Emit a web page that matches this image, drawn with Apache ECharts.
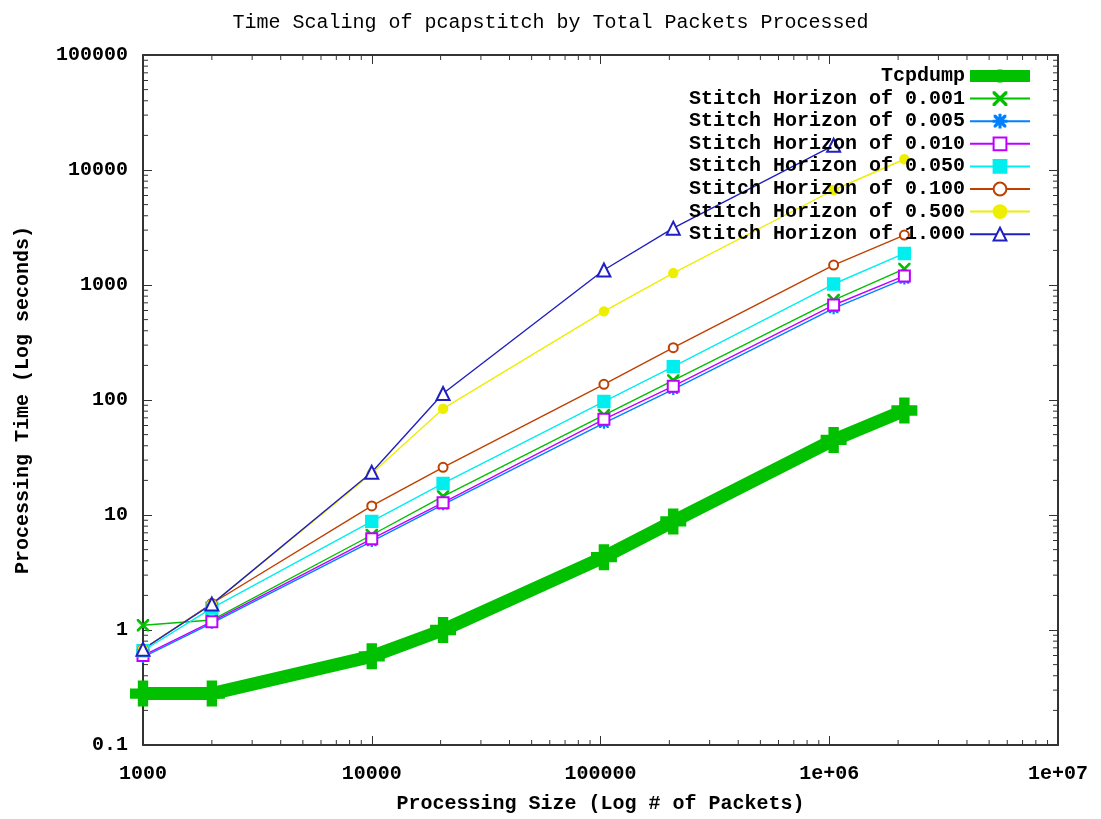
<!DOCTYPE html>
<html>
<head>
<meta charset="utf-8">
<script src="https://cdn.jsdelivr.net/npm/echarts@6/dist/echarts.min.js"></script>
<style>
  html, body { margin: 0; padding: 0; background: #fff; }
  #chart { width: 1101px; height: 819px; }
</style>
</head>
<body>
<div id="chart"></div>
<script>
// packets processed (x) for each run
const packets = [1000, 2000, 10000, 20500, 103500, 208000, 1045000, 2130000];

const tcpdump = [0.28, 0.28, 0.59, 1.0, 4.3, 8.8, 45, 81];
const h0001 = [1.1, 1.22, 6.7, 14.5, 74, 148, 740, 1380];
const h0005 = [0.58, 1.15, 5.9, 12.3, 63, 124, 625, 1130];
const h0010 = [0.6, 1.18, 6.2, 12.8, 68, 132, 670, 1200];
const h0050 = [0.66, 1.55, 8.8, 18.8, 97, 195, 1020, 1880];
const h0100 = [0.68, 1.7, 12, 26, 137, 285, 1490, 2720];
const h0500 = [0.68, 1.68, 23, 84, 590, 1270, 6700, 12400];
const h1000 = [0.68, 1.68, 23.5, 114, 1350, 3120, 16400];

const xTickLabels = ['1000', '10000', '100000', '1e+06', '1e+07'];
const yTickLabels = ['0.1', '1', '10', '100', '1000', '10000', '100000'];

const FONT = '"Liberation Mono", "DejaVu Sans Mono", monospace';

// minor tick positions for log axes (2..9 in each decade)
function minorTicks(lo, hi) {
    const out = [];
    for (let d = lo; d < hi; d *= 10) {
        for (let k = 2; k <= 9; k++) out.push(d * k);
    }
    return out;
}
const xMinor = minorTicks(1000, 1e7);
const yMinor = minorTicks(0.1, 100000);

const pair = (ys) => ys.map((v, i) => [packets[i], v]);

const crossPath = 'path://M0,0 L0.8,0 L5,4.2 L9.2,0 L10,0 L10,0.8 L5.8,5 L10,9.2 L10,10 L9.2,10 L5,5.8 L0.8,10 L0,10 L0,9.2 L4.2,5 L0,0.8 Z';
const starPath = 'path://M0,0 L0.9,0 L5,4.1 L9.1,0 L10,0 L10,0.9 L5.9,5 L10,9.1 L10,10 L9.1,10 L5,5.9 L0.9,10 L0,10 L0,9.1 L4.1,5 L0,0.9 Z M4.5,-1 H5.5 V11 H4.5 Z M-1,4.5 H11 V5.5 H-1 Z';
const plusPath = 'path://M3,0 H7 V3 H10 V7 H7 V10 H3 V7 H0 V3 H3 Z';

function thin(name, data, color, symbol, size) {
    return {
        name, type: 'line', data: pair(data), symbol, symbolSize: size,
        showSymbol: true,
        lineStyle: { color, width: 1.4 },
        itemStyle: { color, borderColor: color, borderWidth: 1.4 },
        animation: false
    };
}

const myChart = echarts.init(document.getElementById('chart'));

const axisLabelStyle = { fontFamily: FONT, fontSize: 20, fontWeight: 'bold', color: '#000' };
const axisLineStyle = { lineStyle: { color: '#333', width: 2 } };

const option = {
    backgroundColor: '#fff',
    animation: false,
    title: {
        text: 'Time Scaling of pcapstitch by Total Packets Processed',
        left: 'center', top: 8,
        textStyle: { fontFamily: FONT, fontSize: 20, fontWeight: 'normal', color: '#000' }
    },
    legend: {
        orient: 'vertical', right: 60, top: 61, align: 'right',
        itemWidth: 60, itemHeight: 16, itemGap: 2.6,
        data: [
            { name: 'Tcpdump', lineStyle: { width: 12 } },
            'Stitch Horizon of 0.001', 'Stitch Horizon of 0.005', 'Stitch Horizon of 0.010',
            'Stitch Horizon of 0.050', 'Stitch Horizon of 0.100', 'Stitch Horizon of 0.500', 'Stitch Horizon of 1.000'],
        textStyle: { fontFamily: FONT, fontSize: 20, fontWeight: 'bold', color: '#000', lineHeight: 20 }
    },
    grid: { left: 143, right: 43, top: 55, bottom: 72 },
    xAxis: [
        {
            type: 'log', logBase: 10, min: 1000, max: 1e7,
            name: 'Processing Size (Log # of Packets)', nameLocation: 'middle', nameGap: 49,
            nameTextStyle: axisLabelStyle,
            axisLine: axisLineStyle,
            axisTick: { inside: true, length: 9, lineStyle: { color: '#333' } },
            axisLabel: Object.assign({ margin: 19, formatter: (v) => xTickLabels[Math.round(Math.log10(v)) - 3] }, axisLabelStyle),
            splitLine: { show: false }
        },
        {
            type: 'log', logBase: 10, min: 1000, max: 1e7, position: 'top',
            axisLine: axisLineStyle,
            axisTick: { inside: true, length: 9, lineStyle: { color: '#333' } },
            axisLabel: { show: false }, splitLine: { show: false }
        }
    ],
    yAxis: [
        {
            type: 'log', logBase: 10, min: 0.1, max: 100000,
            name: 'Processing Time (Log seconds)', nameLocation: 'middle', nameGap: 110,
            nameTextStyle: axisLabelStyle,
            axisLine: axisLineStyle,
            axisTick: { inside: true, length: 9, lineStyle: { color: '#333' } },
            axisLabel: Object.assign({ margin: 15, formatter: (v) => yTickLabels[Math.round(Math.log10(v)) + 1] }, axisLabelStyle),
            splitLine: { show: false }
        },
        {
            type: 'log', logBase: 10, min: 0.1, max: 100000, position: 'right',
            axisLine: axisLineStyle,
            axisTick: { inside: true, length: 9, lineStyle: { color: '#333' } },
            axisLabel: { show: false }, splitLine: { show: false }
        }
    ],
    series: [
        {
            type: 'custom', silent: true, animation: false,
            data: xMinor.map(v => [v, 0.1]),
            renderItem: (params, api) => {
                const cs = params.coordSys;
                const p = api.coord([api.value(0), 0.1]);
                return {
                    type: 'group', children: [
                        { type: 'line', shape: { x1: p[0], y1: cs.y + cs.height, x2: p[0], y2: cs.y + cs.height - 5 }, style: { stroke: '#333', lineWidth: 1 } },
                        { type: 'line', shape: { x1: p[0], y1: cs.y, x2: p[0], y2: cs.y + 5 }, style: { stroke: '#333', lineWidth: 1 } }
                    ]
                };
            }
        },
        {
            type: 'custom', silent: true, animation: false,
            data: yMinor.map(v => [1000, v]),
            renderItem: (params, api) => {
                const cs = params.coordSys;
                const p = api.coord([1000, api.value(1)]);
                return {
                    type: 'group', children: [
                        { type: 'line', shape: { x1: cs.x, y1: p[1], x2: cs.x + 5, y2: p[1] }, style: { stroke: '#333', lineWidth: 1 } },
                        { type: 'line', shape: { x1: cs.x + cs.width, y1: p[1], x2: cs.x + cs.width - 5, y2: p[1] }, style: { stroke: '#333', lineWidth: 1 } }
                    ]
                };
            }
        },
        {
            name: 'Tcpdump', type: 'line', data: pair(tcpdump),
            symbol: plusPath, symbolSize: 26,
            lineStyle: { color: '#00c000', width: 13 },
            itemStyle: { color: '#00c000' },
            animation: false
        },
        thin('Stitch Horizon of 0.001', h0001, '#00c000', crossPath, 11),
        thin('Stitch Horizon of 0.005', h0005, '#0080ff', starPath, 10),
        thin('Stitch Horizon of 0.010', h0010, '#c000ff', 'emptyRect', 11),
        thin('Stitch Horizon of 0.050', h0050, '#00eeee', 'rect', 12),
        thin('Stitch Horizon of 0.100', h0100, '#c04000', 'emptyCircle', 9),
        thin('Stitch Horizon of 0.500', h0500, '#eeee00', 'circle', 9),
        thin('Stitch Horizon of 1.000', h1000, '#2020c0', 'emptyTriangle', 13)
    ]
};

myChart.setOption(option);
window.addEventListener('resize', function () {
    myChart.resize();
});
</script>
</body>
</html>
